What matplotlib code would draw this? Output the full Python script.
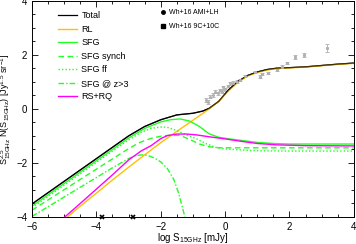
import numpy as np
import matplotlib
matplotlib.use('Agg')
import matplotlib.pyplot as plt
from matplotlib.lines import Line2D
from matplotlib.ticker import MultipleLocator

plt.rcParams['font.family'] = ['Liberation Sans', 'DejaVu Sans']
plt.rcParams['mathtext.default'] = 'regular'

# model curves: log S [mJy] vs log(S^2.5 N(S))
total_x = [-6.0, -5.0, -4.0, -3.5, -3.0, -2.5, -2.0, -1.5, -1.0, -0.7, -0.5, -0.2, 0.1, 0.4, 0.7, 1.0, 1.3, 1.6, 2.0, 2.5, 3.0, 3.5, 4.0]
total_y = [-3.52, -2.68, -1.84, -1.42, -1.00, -0.65, -0.40, -0.22, -0.16, -0.08, 0.02, 0.28, 0.70, 1.02, 1.24, 1.37, 1.46, 1.51, 1.53, 1.56, 1.61, 1.66, 1.70]

rl_x = [-4.9, -4.5, -4.0, -3.5, -3.0, -2.5, -2.0, -1.5, -1.0, -0.5, -0.2, 0.1, 0.4, 0.7, 1.0, 1.3, 1.6, 2.0, 2.5, 3.0, 3.5, 4.0]
rl_y = [-4.0, -3.6, -3.12, -2.63, -2.16, -1.70, -1.25, -0.83, -0.42, 0.0, 0.28, 0.66, 0.99, 1.22, 1.35, 1.44, 1.50, 1.52, 1.55, 1.60, 1.65, 1.69]

sfg_x = [-6.0, -5.0, -4.0, -3.5, -3.0, -2.5, -2.0, -1.7, -1.4, -1.1, -0.8, -0.5, -0.2, 0.2, 0.6, 1.0, 1.5, 2.0, 3.0, 4.0]
sfg_y = [-3.60, -2.76, -1.92, -1.50, -1.08, -0.72, -0.48, -0.40, -0.37, -0.45, -0.65, -0.92, -1.05, -1.12, -1.18, -1.24, -1.28, -1.30, -1.30, -1.30]

synch_x = [-6.0, -5.0, -4.0, -3.5, -3.0, -2.65, -2.3, -2.0, -1.7, -1.4, -1.1, -0.8, -0.5, -0.2, 0.5, 4.0]
synch_y = [-3.75, -2.99, -2.23, -1.85, -1.47, -1.24, -1.09, -1.01, -0.97, -0.98, -1.13, -1.30, -1.40, -1.44, -1.44, -1.44]

ff_x = [-6.0, -5.0, -4.0, -3.5, -3.0, -2.6, -2.3, -2.0, -1.8, -1.5, -1.2, -0.9, -0.6, -0.3, 0.0, 0.5, 1.0, 2.0, 4.0]
ff_y = [-3.66, -2.82, -1.98, -1.56, -1.15, -0.86, -0.72, -0.67, -0.68, -0.80, -0.96, -1.10, -1.28, -1.42, -1.48, -1.52, -1.55, -1.56, -1.56]

hiz_x = [-6.0, -5.0, -4.0, -3.5, -3.0, -2.8, -2.6, -2.4, -2.2, -2.0, -1.8, -1.6, -1.45, -1.35, -1.25]
hiz_y = [-3.98, -3.26, -2.54, -2.18, -1.84, -1.74, -1.70, -1.72, -1.82, -1.96, -2.20, -2.60, -3.10, -3.55, -4.0]

rq_x = [-4.98, -4.5, -4.0, -3.5, -3.0, -2.6, -2.3, -2.0, -1.8, -1.5, -1.2, -0.9, -0.5, 0.0, 0.5, 1.0, 1.6, 2.5, 4.0]
rq_y = [-4.0, -3.5, -2.97, -2.44, -1.89, -1.55, -1.36, -1.10, -0.99, -0.93, -0.93, -0.96, -1.03, -1.11, -1.20, -1.28, -1.33, -1.36, -1.37]

# Whittam+16 counts
ami_x = [-0.58, -0.52, -0.47, -0.37, -0.32, -0.21, -0.16, -0.11, -0.06, 0.0, 0.10, 0.15, 0.25, 0.36, 0.46, 0.61]
ami_y = [0.33, 0.27, 0.46, 0.52, 0.64, 0.58, 0.70, 0.64, 0.80, 0.73, 0.85, 0.95, 0.97, 1.01, 1.07, 1.22]
ami_err = [0.07, 0.07, 0.06, 0.06, 0.06, 0.05, 0.05, 0.05, 0.05, 0.05, 0.05, 0.05, 0.05, 0.05, 0.05, 0.05]

c9_x = [0.93, 1.08, 1.14, 1.33, 1.61, 1.76, 1.92, 2.17, 2.45, 3.16]
c9_y = [1.37, 1.19, 1.30, 1.33, 1.44, 1.56, 1.70, 1.93, 2.00, 2.26]
c9_err = [0.05, 0.06, 0.05, 0.05, 0.05, 0.05, 0.05, 0.07, 0.07, 0.15]

cross_x = [-3.83, -2.86]
cross_y = [-4.0, -4.0]

green = '#22ff22'
gold = '#ffc000'

fig = plt.figure(figsize=(3.56, 2.44), dpi=100)
ax = fig.add_axes([0.090, 0.111, 0.904, 0.885])

ax.errorbar(ami_x, ami_y, yerr=ami_err, fmt='o', ms=1.2, color='#b0b0b0',
            elinewidth=0.6, capsize=1.2, capthick=0.6)
ax.errorbar(c9_x, c9_y, yerr=c9_err, fmt='s', ms=1.2, color='#b0b0b0',
            elinewidth=0.6, capsize=1.2, capthick=0.6)

ax.plot(total_x, total_y, color='black', lw=0.9, label='Total')
ax.plot(rl_x, rl_y, color=gold, lw=1.0, label='RL')
ax.plot(sfg_x, sfg_y, color=green, lw=1.0, label='SFG')
ax.plot(synch_x, synch_y, color=green, lw=1.0, ls=(0, (4, 2.5)), label='SFG synch')
ax.plot(ff_x, ff_y, color=green, lw=1.0, ls=(0, (1, 1.5)), label='SFG ff')
ax.plot(hiz_x, hiz_y, color=green, lw=1.0, ls=(0, (4, 1.5, 1, 1.5)), label='SFG @ z>3')
ax.plot(rq_x, rq_y, color='magenta', lw=1.0, label='RS+RQ')
# replot total on top
ax.plot(total_x, total_y, color='black', lw=0.9, alpha=0.7)

ax.plot(cross_x, cross_y, 'x', color='black', ms=3.5, mew=1.2, clip_on=False)

ax.set_xlim(-6, 4)
ax.set_ylim(-4, 4)
ax.xaxis.set_major_locator(MultipleLocator(2))
ax.xaxis.set_minor_locator(MultipleLocator(0.5))
ax.yaxis.set_major_locator(MultipleLocator(2))
ax.yaxis.set_minor_locator(MultipleLocator(0.5))
ax.tick_params(which='both', direction='in', top=True, right=True, labelsize=7, width=0.6)
ax.tick_params(which='major', length=4)
ax.tick_params(which='minor', length=2)
for s in ax.spines.values():
    s.set_linewidth(0.7)

ax.set_xlabel('log S$_{15GHz}$ [mJy]', fontsize=7, labelpad=-0.5)
ax.set_ylabel('S$_{15GHz}^{2.5}$ N(S$_{15GHz}$) [Jy$^{1.5}$ sr$^{-1}$]', fontsize=6.5, labelpad=2)

leg = ax.legend(loc='upper left', bbox_to_anchor=(0.055, 0.99), frameon=False,
                fontsize=6.5, handlelength=2.1, labelspacing=0.5, handletextpad=0.5)
ax.add_artist(leg)

h2 = [Line2D([], [], ls='none', marker='o', color='black', ms=2.5),
      Line2D([], [], ls='none', marker='s', color='black', ms=2.5)]
ax.legend(h2, ['Wh+16 AMI+LH', 'Wh+16 9C+10C'], loc='upper left', bbox_to_anchor=(0.38, 0.99),
          frameon=False, fontsize=5, handlelength=0.8, handletextpad=0.4, labelspacing=1.0)

fig.savefig('out.png', dpi=100)
